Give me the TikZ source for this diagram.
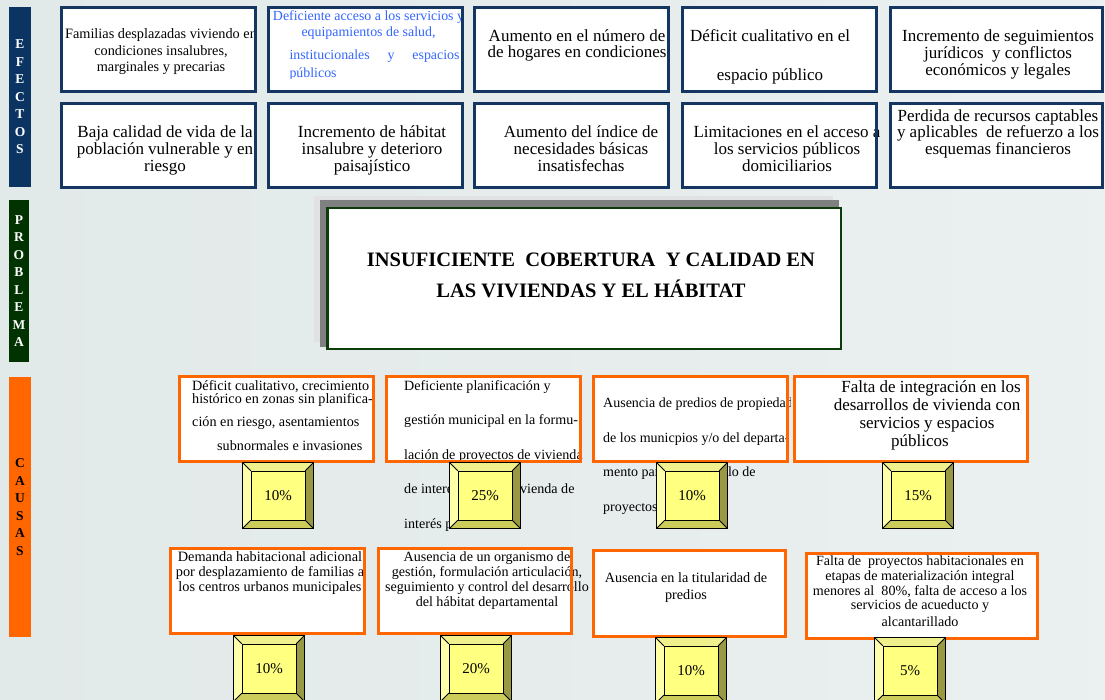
\documentclass[tikz,border=0pt]{standalone}
\usepackage{fontspec}
\setmainfont{Liberation Serif}
\usetikzlibrary{calc}
\pgfdeclarelayer{bgl}
\pgfdeclarelayer{txt}
\pgfsetlayers{bgl,txt,main}
\definecolor{navy}{RGB}{20,54,96}
\definecolor{navybar}{RGB}{12,52,98}
\definecolor{grnbar}{RGB}{0,51,0}
\definecolor{grnln}{RGB}{12,60,12}
\definecolor{orng}{RGB}{255,102,0}
\definecolor{bluetxt}{RGB}{51,102,255}
\definecolor{bgA}{RGB}{226,233,233}
\definecolor{shlight}{RGB}{226,226,226}
\definecolor{shdark}{RGB}{128,128,128}
\definecolor{bvT}{RGB}{240,240,140}
\definecolor{bvL}{RGB}{255,255,170}
\definecolor{bvR}{RGB}{153,153,68}
\definecolor{bvB}{RGB}{204,204,90}
\definecolor{bvI}{RGB}{255,255,128}
\newcommand\T{\rule{0pt}{.8em}}
\newcommand\fs[2]{\fontsize{#1}{#2}\selectfont}
\newcommand\bx[7]{\node[#1, minimum width={#5-#3-#7}, minimum height={#6-#4-#7}] (#2) at ({(#3+#5)/2},{(#4+#6)/2}) {};}
\tikzset{
  efbox/.style={draw=navy, line width=3pt, inner sep=0pt},
  cabox/.style={draw=orng, line width=3pt, inner sep=0pt},
  prbox/.style={draw=grnln, line width=2.5pt, inner sep=0pt},
  txtn/.style={inner sep=0pt, align=center, anchor=north, text=black},
  txtl/.style={inner sep=0pt, align=left, anchor=north west, text=black},
  sidebar/.style={inner sep=0pt, align=center, font=\bfseries\fs{13.5}{17.5}},
  pctframe/.style={minimum width=70, minimum height=65, inner sep=0pt},
  pctin/.style={minimum width=54, minimum height=49, inner sep=0pt, fill=bvI, draw=black, line width=0.8pt, font=\fs{15}{15}},
  pctline/.style={draw=black, line width=0.8pt}
}
\newcommand\pct[4]{%
  \node[pctframe] (#1) at ({#2+35},{#3+32.5}) {};
  \fill[bvT] (#1.north west) -- (#1.north east) -- ([shift={(-8pt,-8pt)}]#1.north east) -- ([shift={(8pt,-8pt)}]#1.north west) -- cycle;
  \fill[bvL] (#1.north west) -- ([shift={(8pt,-8pt)}]#1.north west) -- ([shift={(8pt,8pt)}]#1.south west) -- (#1.south west) -- cycle;
  \fill[bvR] (#1.north east) -- ([shift={(-8pt,-8pt)}]#1.north east) -- ([shift={(-8pt,8pt)}]#1.south east) -- (#1.south east) -- cycle;
  \fill[bvB] (#1.south west) -- ([shift={(8pt,8pt)}]#1.south west) -- ([shift={(-8pt,8pt)}]#1.south east) -- (#1.south east) -- cycle;
  \draw[pctline] (#1.north west) -- ([shift={(8pt,-8pt)}]#1.north west)
     (#1.north east) -- ([shift={(-8pt,-8pt)}]#1.north east)
     (#1.south west) -- ([shift={(8pt,8pt)}]#1.south west)
     (#1.south east) -- ([shift={(-8pt,8pt)}]#1.south east);
  \draw[pctline] (#1.north west) rectangle (#1.south east);
  \node[pctin] (#1t) at (#1.center) {#4};
}
\begin{document}
\begin{tikzpicture}[x=1pt,y=-1pt]
\useasboundingbox (0,0) rectangle (1105,700);
\clip (0,0) rectangle (1105,700);
\begin{pgfonlayer}{bgl}
  \shade[left color=bgA, middle color=white, right color=bgA!70!white] (0,0) rectangle (1105,700);
  \fill[shlight] (314,196) rectangle (833,342);
  \fill[shdark] (320,200) rectangle (839,347);
\end{pgfonlayer}

% side bars
\node[sidebar, fill=navybar, text=white, minimum width=22, minimum height=180] (barE) at (20,97) {E\\F\\E\\C\\T\\O\\S};
\node[sidebar, fill=grnbar, text=white, minimum width=20, minimum height=162] (barP) at (19,281) {P\\R\\O\\B\\L\\E\\M\\A};
\node[sidebar, fill=orng, text=black, minimum width=22, minimum height=260] (barC) at (20,507) {C\\A\\U\\S\\A\\S};

% effect boxes
\bx{efbox}{e1}{60}{6}{257}{93}{3}
\bx{efbox}{e2}{267}{6}{464}{93}{3}
\bx{efbox}{e3}{473}{6}{670}{93}{3}
\bx{efbox}{e4}{681}{6}{878}{93}{3}
\bx{efbox}{e5}{889}{6}{1104}{93}{3}
\bx{efbox}{f1}{60}{102}{257}{189}{3}
\bx{efbox}{f2}{267}{102}{464}{189}{3}
\bx{efbox}{f3}{473}{102}{670}{189}{3}
\bx{efbox}{f4}{681}{102}{878}{189}{3}
\bx{efbox}{f5}{889}{102}{1104}{189}{3}
% problem
\bx{prbox}{pr}{326}{207}{842}{350}{2.5}
% cause boxes
\bx{cabox}{c1}{178}{375}{375}{463}{3}
\bx{cabox}{c2}{385}{375}{582}{463}{3}
\bx{cabox}{c3}{592}{375}{789}{463}{3}
\bx{cabox}{c4}{793}{375}{1029}{463}{3}
\bx{cabox}{d1}{169}{547}{366}{635}{3}
\bx{cabox}{d2}{377}{547}{573}{635}{3}
\bx{cabox}{d3}{592}{549}{787}{638}{3}
\bx{cabox}{d4}{805}{552}{1039}{640}{3}

\begin{pgfonlayer}{bgl}
  \foreach \n in {e1,e2,e3,e4,e5,f1,f2,f3,f4,f5,pr,c1,c2,c3,c4,d1,d2,d3,d4}
    \fill[white] (\n.north west) rectangle (\n.south east);
\end{pgfonlayer}

\begin{pgfonlayer}{txt}
% effects row 1
\node[txtn, font=\fs{14.3}{16.5}] (e1t) at (161,26.9) {\T Familias desplazadas viviendo en\\condiciones insalubres,\\marginales y precarias};
\begin{scope}
  \clip (267,7) rectangle (466,79);
  \node[txtn, text=bluetxt, font=\fs{13.9}{16}] (e2t) at (368.5,9.1) {\T Deficiente acceso a los servicios y\\equipamientos de salud,\\[7pt]\hspace*{12pt}\makebox[170pt][s]{institucionales y espacios}\\[2pt]\hspace*{12pt}\makebox[170pt][l]{públicos}};
\end{scope}
\node[txtn, font=\fs{17}{16.5}] (e3t) at (577,27.3) {\T Aumento en el número de\\de hogares en condiciones};
\node[txtn, font=\fs{17}{17}] (e4t) at (770,27.3) {\T Déficit cualitativo en el\\[22pt]espacio público};
\node[txtn, font=\fs{17}{17.3}] (e5t) at (998,27.3) {\T Incremento de seguimientos\\jurídicos\ \ y conflictos\\económicos y legales};
% effects row 2
\node[txtn, font=\fs{17}{17}] (f1t) at (165,123.3) {\T Baja calidad de vida de la\\población vulnerable y en\\riesgo};
\node[txtn, font=\fs{17}{17}] (f2t) at (372,123.3) {\T Incremento de hábitat\\insalubre y deterioro\\paisajístico};
\node[txtn, font=\fs{17}{17}] (f3t) at (581,123.3) {\T Aumento del índice de\\necesidades básicas\\insatisfechas};
\node[txtn, font=\fs{17}{17}] (f4t) at (787,123.3) {\T Limitaciones en el acceso a\\los servicios públicos\\domiciliarios};
\node[txtn, font=\fs{17}{16.7}] (f5t) at (998,107.3) {\T Perdida de recursos captables\\y aplicables\ \ de refuerzo a los\\esquemas financieros};
% problem
\node[txtn, font=\bfseries\fs{20.5}{31}] (prt) at (591,250.4) {\T INSUFICIENTE\ \ COBERTURA\ \ Y CALIDAD EN\\LAS VIVIENDAS Y EL HÁBITAT};
% causes row 1
\node[txtl, font=\fs{14.2}{13}] (c1t) at (192,378.9) {\T Déficit cualitativo, crecimiento\\histórico en zonas sin planifica-\\[10pt]ción en riesgo, asentamientos\\[11pt]\hspace*{25pt}subnormales e invasiones};
\node[txtl, font=\fs{14.1}{34.5}] (c2t) at (404,379) {\T Deficiente planificación y\\gestión municipal en la formu-\\lación de proyectos de vivienda\\de interés social y vivienda de\\interés prioritario.};
\begin{scope}
  \clip (592,375) rectangle (790,560);
  \node[txtl, font=\fs{14}{34.7}] (c3t) at (603,396) {\T Ausencia de predios de propiedad\\de los municpios y/o del departa-\\mento para el desarrollo de\\proyectos de vivienda};
\end{scope}
\node[txtn, font=\fs{17}{18}] (c4t) at (927,378.3) {\T\hspace*{8pt}Falta de integración en los\\desarrollos de vivienda con\\servicios y espacios\hspace*{26pt}\\públicos\hspace*{14pt}};
% causes row 2
\node[txtn, font=\fs{14.3}{15}] (d1t) at (270,549.9) {\T Demanda habitacional adicional\\por desplazamiento de familias a\\los centros urbanos municipales};
\node[txtn, font=\fs{14.1}{15}] (d2t) at (487,550) {\T Ausencia de un organismo de\\gestión, formulación articulación,\\seguimiento y control del desarrollo\\del hábitat departamental};
\node[txtn, font=\fs{14.2}{17}] (d3t) at (686,570.9) {\T Ausencia en la titularidad de\\predios};
\node[txtn, font=\fs{14.1}{14.8}] (d4t) at (920,554) {\T Falta de\ \ proyectos habitacionales en\\etapas de materialización integral\\menores al\ \ 80\%, falta de acceso a los\\servicios de acueducto y\\[2pt]alcantarillado};
\end{pgfonlayer}

% percentage boxes
\pct{p1}{243}{463}{10\%}
\pct{p2}{450}{463}{25\%}
\pct{p3}{657}{463}{10\%}
\pct{p4}{883}{463}{15\%}
\pct{p5}{234}{636}{10\%}
\pct{p6}{441}{636}{20\%}
\pct{p7}{656}{638}{10\%}
\pct{p8}{875}{638}{5\%}
\end{tikzpicture}
\end{document}
